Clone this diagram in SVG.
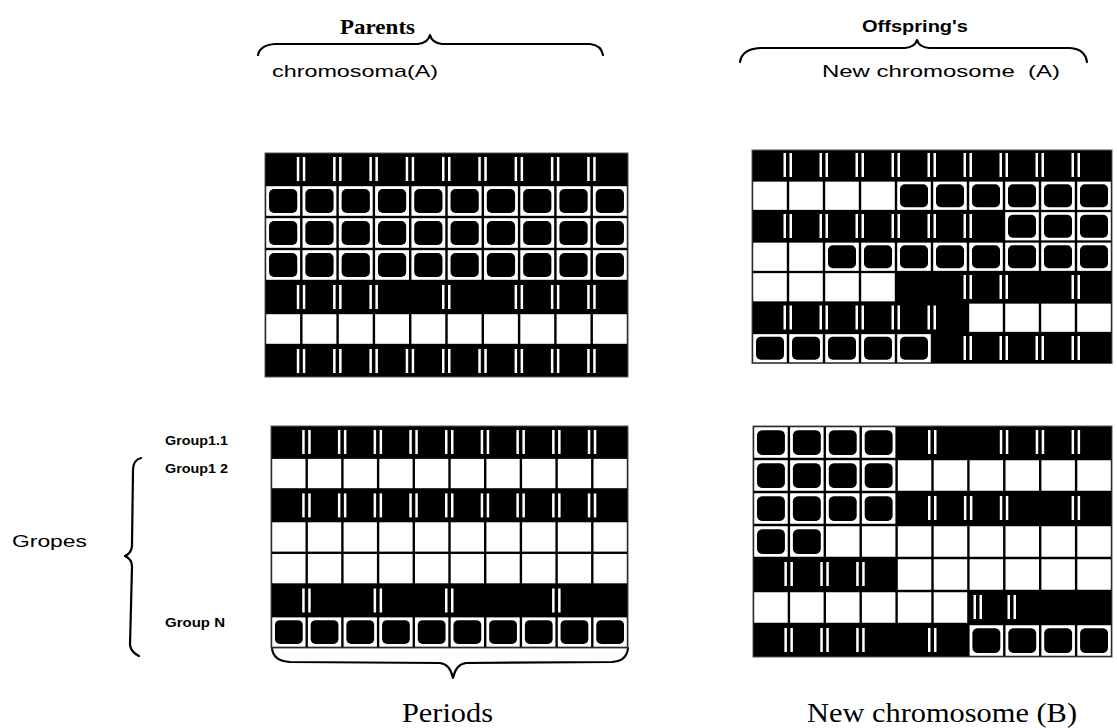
<svg xmlns="http://www.w3.org/2000/svg" xmlns:xlink="http://www.w3.org/1999/xlink" width="1117" height="728" viewBox="0 0 1117 728">
<style>
.bg{fill:#000;stroke:#555;stroke-width:1}
.br{fill:none;stroke:#000;stroke-width:2.2;stroke-linecap:round;stroke-linejoin:round}
.sans{font-family:"Liberation Sans",Arial,sans-serif;fill:#000}
.serif{font-family:"Liberation Serif","Times New Roman",serif;fill:#000}
</style>
<defs>
<symbol id="W" viewBox="0 0 36 32" preserveAspectRatio="none"><rect x="1.2" y="1.2" width="33.6" height="29.6" fill="#fff"/></symbol>
<symbol id="F" viewBox="0 0 36 32" preserveAspectRatio="none"><rect x="1.2" y="1.2" width="33.6" height="29.6" fill="#fff"/><rect x="4" y="4" width="28" height="24" rx="5" fill="#000"/></symbol>
<g id="B"><rect x="-4.5" y="-2" width="2.5" height="24" fill="#fff"/><rect x="1.5" y="-2" width="2.5" height="24" fill="#fff"/></g>
</defs>
<rect width="1117" height="728" fill="#fff"/>

<g id="labels">
<text class="serif" x="340" y="34" font-size="21" font-weight="bold" textLength="75" lengthAdjust="spacingAndGlyphs">Parents</text>
<text class="sans" x="272" y="77" font-size="17" textLength="166" lengthAdjust="spacingAndGlyphs">chromosoma(A)</text>
<text class="sans" x="862" y="32" font-size="17" font-weight="bold" textLength="106" lengthAdjust="spacingAndGlyphs">Offspring's</text>
<text class="sans" x="822" y="77" font-size="17" textLength="238" lengthAdjust="spacingAndGlyphs" xml:space="preserve">New chromosome  (A)</text>
<text class="sans" x="165" y="445" font-size="12" font-weight="bold" textLength="63" lengthAdjust="spacingAndGlyphs">Group1.1</text>
<text class="sans" x="165" y="473" font-size="12" font-weight="bold" textLength="63" lengthAdjust="spacingAndGlyphs">Group1 2</text>
<text class="sans" x="165" y="627" font-size="12" font-weight="bold" textLength="60" lengthAdjust="spacingAndGlyphs">Group N</text>
<text class="sans" x="12" y="547" font-size="17" textLength="75" lengthAdjust="spacingAndGlyphs">Gropes</text>
<text class="serif" x="402" y="722" font-size="28" textLength="91" lengthAdjust="spacingAndGlyphs">Periods</text>
<text class="serif" x="807" y="722" font-size="28" textLength="270" lengthAdjust="spacingAndGlyphs">New chromosome (B)</text>
</g>

<g id="connectors">
<path class="br" d="M258,55 Q260,45 275,44 L418,44 Q428,43 430,35 Q432,43 442,44 L590,44 Q601,45 603,55"/>
<path class="br" d="M740,62 Q742,49 760,48 L905,48 Q915,47 917,40 Q919,47 929,48 L1070,48 Q1085,49 1087,62"/>
<path class="br" d="M141,458 Q133,460 133,470 L132,545 Q132,553 125,556 Q132,559 132,567 L130,645 Q131,652 139,656"/>
<path class="br" d="M272,648 Q273,661 290,662 L440,663 Q450,664 453,678 Q456,664 466,663 L612,662 Q627,661 628,648"/>
</g>

<g id="gridA">
<rect class="bg" x="265" y="153" width="363" height="224"/>
<use href="#B" x="301.3" y="159"/><use href="#B" x="337.6" y="159"/><use href="#B" x="373.9" y="159"/><use href="#B" x="410.2" y="159"/><use href="#B" x="446.5" y="159"/><use href="#B" x="482.8" y="159"/><use href="#B" x="519.1" y="159"/><use href="#B" x="555.4" y="159"/><use href="#B" x="591.7" y="159"/>
<use href="#F" x="265" y="185" width="36.3" height="32"/><use href="#F" x="301.3" y="185" width="36.3" height="32"/><use href="#F" x="337.6" y="185" width="36.3" height="32"/><use href="#F" x="373.9" y="185" width="36.3" height="32"/><use href="#F" x="410.2" y="185" width="36.3" height="32"/><use href="#F" x="446.5" y="185" width="36.3" height="32"/><use href="#F" x="482.8" y="185" width="36.3" height="32"/><use href="#F" x="519.1" y="185" width="36.3" height="32"/><use href="#F" x="555.4" y="185" width="36.3" height="32"/><use href="#F" x="591.7" y="185" width="36.3" height="32"/>
<use href="#F" x="265" y="217" width="36.3" height="32"/><use href="#F" x="301.3" y="217" width="36.3" height="32"/><use href="#F" x="337.6" y="217" width="36.3" height="32"/><use href="#F" x="373.9" y="217" width="36.3" height="32"/><use href="#F" x="410.2" y="217" width="36.3" height="32"/><use href="#F" x="446.5" y="217" width="36.3" height="32"/><use href="#F" x="482.8" y="217" width="36.3" height="32"/><use href="#F" x="519.1" y="217" width="36.3" height="32"/><use href="#F" x="555.4" y="217" width="36.3" height="32"/><use href="#F" x="591.7" y="217" width="36.3" height="32"/>
<use href="#F" x="265" y="249" width="36.3" height="32"/><use href="#F" x="301.3" y="249" width="36.3" height="32"/><use href="#F" x="337.6" y="249" width="36.3" height="32"/><use href="#F" x="373.9" y="249" width="36.3" height="32"/><use href="#F" x="410.2" y="249" width="36.3" height="32"/><use href="#F" x="446.5" y="249" width="36.3" height="32"/><use href="#F" x="482.8" y="249" width="36.3" height="32"/><use href="#F" x="519.1" y="249" width="36.3" height="32"/><use href="#F" x="555.4" y="249" width="36.3" height="32"/><use href="#F" x="591.7" y="249" width="36.3" height="32"/>
<use href="#B" x="301.3" y="287"/><use href="#B" x="337.6" y="287"/><use href="#B" x="373.9" y="287"/><use href="#B" x="446.5" y="287"/><use href="#B" x="519.1" y="287"/><use href="#B" x="555.4" y="287"/><use href="#B" x="591.7" y="287"/>
<use href="#W" x="265" y="313" width="36.3" height="32"/><use href="#W" x="301.3" y="313" width="36.3" height="32"/><use href="#W" x="337.6" y="313" width="36.3" height="32"/><use href="#W" x="373.9" y="313" width="36.3" height="32"/><use href="#W" x="410.2" y="313" width="36.3" height="32"/><use href="#W" x="446.5" y="313" width="36.3" height="32"/><use href="#W" x="482.8" y="313" width="36.3" height="32"/><use href="#W" x="519.1" y="313" width="36.3" height="32"/><use href="#W" x="555.4" y="313" width="36.3" height="32"/><use href="#W" x="591.7" y="313" width="36.3" height="32"/>
<use href="#B" x="301.3" y="351"/><use href="#B" x="337.6" y="351"/><use href="#B" x="373.9" y="351"/><use href="#B" x="410.2" y="351"/><use href="#B" x="446.5" y="351"/><use href="#B" x="482.8" y="351"/><use href="#B" x="519.1" y="351"/><use href="#B" x="555.4" y="351"/><use href="#B" x="591.7" y="351"/>
</g>

<g id="gridB">
<rect class="bg" x="752" y="150" width="360" height="213.5"/>
<use href="#B" x="788" y="155"/><use href="#B" x="824" y="155"/><use href="#B" x="860" y="155"/><use href="#B" x="896" y="155"/><use href="#B" x="932" y="155"/><use href="#B" x="968" y="155"/><use href="#B" x="1004" y="155"/><use href="#B" x="1040" y="155"/><use href="#B" x="1076" y="155"/>
<use href="#W" x="752" y="180.5" width="36" height="30.5"/><use href="#W" x="788" y="180.5" width="36" height="30.5"/><use href="#W" x="824" y="180.5" width="36" height="30.5"/><use href="#W" x="860" y="180.5" width="36" height="30.5"/><use href="#F" x="896" y="180.5" width="36" height="30.5"/><use href="#F" x="932" y="180.5" width="36" height="30.5"/><use href="#F" x="968" y="180.5" width="36" height="30.5"/><use href="#F" x="1004" y="180.5" width="36" height="30.5"/><use href="#F" x="1040" y="180.5" width="36" height="30.5"/><use href="#F" x="1076" y="180.5" width="36" height="30.5"/>
<use href="#B" x="788" y="216"/><use href="#B" x="824" y="216"/><use href="#B" x="860" y="216"/><use href="#B" x="896" y="216"/><use href="#B" x="932" y="216"/><use href="#B" x="968" y="216"/><use href="#F" x="1004" y="211" width="36" height="30.5"/><use href="#F" x="1040" y="211" width="36" height="30.5"/><use href="#F" x="1076" y="211" width="36" height="30.5"/>
<use href="#W" x="752" y="241.5" width="36" height="30.5"/><use href="#W" x="788" y="241.5" width="36" height="30.5"/><use href="#F" x="824" y="241.5" width="36" height="30.5"/><use href="#F" x="860" y="241.5" width="36" height="30.5"/><use href="#F" x="896" y="241.5" width="36" height="30.5"/><use href="#F" x="932" y="241.5" width="36" height="30.5"/><use href="#F" x="968" y="241.5" width="36" height="30.5"/><use href="#F" x="1004" y="241.5" width="36" height="30.5"/><use href="#F" x="1040" y="241.5" width="36" height="30.5"/><use href="#F" x="1076" y="241.5" width="36" height="30.5"/>
<use href="#W" x="752" y="272" width="36" height="30.5"/><use href="#W" x="788" y="272" width="36" height="30.5"/><use href="#W" x="824" y="272" width="36" height="30.5"/><use href="#W" x="860" y="272" width="36" height="30.5"/><use href="#B" x="968" y="277"/><use href="#B" x="1004" y="277"/><use href="#B" x="1076" y="277"/>
<use href="#B" x="788" y="307.5"/><use href="#B" x="824" y="307.5"/><use href="#B" x="860" y="307.5"/><use href="#B" x="896" y="307.5"/><use href="#B" x="932" y="307.5"/><use href="#W" x="968" y="302.5" width="36" height="30.5"/><use href="#W" x="1004" y="302.5" width="36" height="30.5"/><use href="#W" x="1040" y="302.5" width="36" height="30.5"/><use href="#W" x="1076" y="302.5" width="36" height="30.5"/>
<use href="#F" x="752" y="333" width="36" height="30.5"/><use href="#F" x="788" y="333" width="36" height="30.5"/><use href="#F" x="824" y="333" width="36" height="30.5"/><use href="#F" x="860" y="333" width="36" height="30.5"/><use href="#F" x="896" y="333" width="36" height="30.5"/><use href="#B" x="968" y="338"/><use href="#B" x="1004" y="338"/><use href="#B" x="1040" y="338"/><use href="#B" x="1076" y="338"/>
</g>

<g id="gridC">
<rect class="bg" x="271" y="426" width="357" height="222"/>
<use href="#B" x="306.7" y="432"/><use href="#B" x="342.4" y="432"/><use href="#B" x="378.1" y="432"/><use href="#B" x="413.8" y="432"/><use href="#B" x="449.5" y="432"/><use href="#B" x="485.2" y="432"/><use href="#B" x="520.9" y="432"/><use href="#B" x="556.6" y="432"/><use href="#B" x="592.3" y="432"/>
<use href="#W" x="271" y="457.7" width="35.7" height="31.7"/><use href="#W" x="306.7" y="457.7" width="35.7" height="31.7"/><use href="#W" x="342.4" y="457.7" width="35.7" height="31.7"/><use href="#W" x="378.1" y="457.7" width="35.7" height="31.7"/><use href="#W" x="413.8" y="457.7" width="35.7" height="31.7"/><use href="#W" x="449.5" y="457.7" width="35.7" height="31.7"/><use href="#W" x="485.2" y="457.7" width="35.7" height="31.7"/><use href="#W" x="520.9" y="457.7" width="35.7" height="31.7"/><use href="#W" x="556.6" y="457.7" width="35.7" height="31.7"/><use href="#W" x="592.3" y="457.7" width="35.7" height="31.7"/>
<use href="#B" x="306.7" y="495.4"/><use href="#B" x="342.4" y="495.4"/><use href="#B" x="378.1" y="495.4"/><use href="#B" x="413.8" y="495.4"/><use href="#B" x="449.5" y="495.4"/><use href="#B" x="485.2" y="495.4"/><use href="#B" x="520.9" y="495.4"/><use href="#B" x="556.6" y="495.4"/><use href="#B" x="592.3" y="495.4"/>
<use href="#W" x="271" y="521.1" width="35.7" height="31.7"/><use href="#W" x="306.7" y="521.1" width="35.7" height="31.7"/><use href="#W" x="342.4" y="521.1" width="35.7" height="31.7"/><use href="#W" x="378.1" y="521.1" width="35.7" height="31.7"/><use href="#W" x="413.8" y="521.1" width="35.7" height="31.7"/><use href="#W" x="449.5" y="521.1" width="35.7" height="31.7"/><use href="#W" x="485.2" y="521.1" width="35.7" height="31.7"/><use href="#W" x="520.9" y="521.1" width="35.7" height="31.7"/><use href="#W" x="556.6" y="521.1" width="35.7" height="31.7"/><use href="#W" x="592.3" y="521.1" width="35.7" height="31.7"/>
<use href="#W" x="271" y="552.8" width="35.7" height="31.7"/><use href="#W" x="306.7" y="552.8" width="35.7" height="31.7"/><use href="#W" x="342.4" y="552.8" width="35.7" height="31.7"/><use href="#W" x="378.1" y="552.8" width="35.7" height="31.7"/><use href="#W" x="413.8" y="552.8" width="35.7" height="31.7"/><use href="#W" x="449.5" y="552.8" width="35.7" height="31.7"/><use href="#W" x="485.2" y="552.8" width="35.7" height="31.7"/><use href="#W" x="520.9" y="552.8" width="35.7" height="31.7"/><use href="#W" x="556.6" y="552.8" width="35.7" height="31.7"/><use href="#W" x="592.3" y="552.8" width="35.7" height="31.7"/>
<use href="#B" x="306.7" y="590.5"/><use href="#B" x="378.1" y="590.5"/><use href="#B" x="449.5" y="590.5"/><use href="#B" x="556.6" y="590.5"/>
<use href="#F" x="271" y="616.2" width="35.7" height="31.7"/><use href="#F" x="306.7" y="616.2" width="35.7" height="31.7"/><use href="#F" x="342.4" y="616.2" width="35.7" height="31.7"/><use href="#F" x="378.1" y="616.2" width="35.7" height="31.7"/><use href="#F" x="413.8" y="616.2" width="35.7" height="31.7"/><use href="#F" x="449.5" y="616.2" width="35.7" height="31.7"/><use href="#F" x="485.2" y="616.2" width="35.7" height="31.7"/><use href="#F" x="520.9" y="616.2" width="35.7" height="31.7"/><use href="#F" x="556.6" y="616.2" width="35.7" height="31.7"/><use href="#F" x="592.3" y="616.2" width="35.7" height="31.7"/>
</g>

<g id="gridD">
<rect class="bg" x="753" y="426" width="359" height="231"/>
<use href="#F" x="753" y="426" width="35.9" height="33"/><use href="#F" x="788.9" y="426" width="35.9" height="33"/><use href="#F" x="824.8" y="426" width="35.9" height="33"/><use href="#F" x="860.7" y="426" width="35.9" height="33"/><use href="#B" x="932.5" y="432"/><use href="#B" x="1004.3" y="432"/><use href="#B" x="1040.2" y="432"/><use href="#B" x="1076.1" y="432"/>
<use href="#F" x="753" y="459" width="35.9" height="33"/><use href="#F" x="788.9" y="459" width="35.9" height="33"/><use href="#F" x="824.8" y="459" width="35.9" height="33"/><use href="#F" x="860.7" y="459" width="35.9" height="33"/><use href="#W" x="896.6" y="459" width="35.9" height="33"/><use href="#W" x="932.5" y="459" width="35.9" height="33"/><use href="#W" x="968.4" y="459" width="35.9" height="33"/><use href="#W" x="1004.3" y="459" width="35.9" height="33"/><use href="#W" x="1040.2" y="459" width="35.9" height="33"/><use href="#W" x="1076.1" y="459" width="35.9" height="33"/>
<use href="#F" x="753" y="492" width="35.9" height="33"/><use href="#F" x="788.9" y="492" width="35.9" height="33"/><use href="#F" x="824.8" y="492" width="35.9" height="33"/><use href="#F" x="860.7" y="492" width="35.9" height="33"/><use href="#B" x="932.5" y="498"/><use href="#B" x="968.4" y="498"/><use href="#B" x="1004.3" y="498"/><use href="#B" x="1076.1" y="498"/>
<use href="#F" x="753" y="525" width="35.9" height="33"/><use href="#F" x="788.9" y="525" width="35.9" height="33"/><use href="#W" x="824.8" y="525" width="35.9" height="33"/><use href="#W" x="860.7" y="525" width="35.9" height="33"/><use href="#W" x="896.6" y="525" width="35.9" height="33"/><use href="#W" x="932.5" y="525" width="35.9" height="33"/><use href="#W" x="968.4" y="525" width="35.9" height="33"/><use href="#W" x="1004.3" y="525" width="35.9" height="33"/><use href="#W" x="1040.2" y="525" width="35.9" height="33"/><use href="#W" x="1076.1" y="525" width="35.9" height="33"/>
<use href="#B" x="788.9" y="564"/><use href="#B" x="824.8" y="564"/><use href="#B" x="860.7" y="564"/><use href="#W" x="896.6" y="558" width="35.9" height="33"/><use href="#W" x="932.5" y="558" width="35.9" height="33"/><use href="#W" x="968.4" y="558" width="35.9" height="33"/><use href="#W" x="1004.3" y="558" width="35.9" height="33"/><use href="#W" x="1040.2" y="558" width="35.9" height="33"/><use href="#W" x="1076.1" y="558" width="35.9" height="33"/>
<use href="#W" x="753" y="591" width="35.9" height="33"/><use href="#W" x="788.9" y="591" width="35.9" height="33"/><use href="#W" x="824.8" y="591" width="35.9" height="33"/><use href="#W" x="860.7" y="591" width="35.9" height="33"/><use href="#W" x="896.6" y="591" width="35.9" height="33"/><use href="#W" x="932.5" y="591" width="35.9" height="33"/><use href="#B" x="978" y="597"/><use href="#B" x="1012" y="597"/>
<use href="#B" x="788.9" y="630"/><use href="#B" x="824.8" y="630"/><use href="#B" x="860.7" y="630"/><use href="#B" x="932.5" y="630"/><use href="#F" x="968.4" y="624" width="35.9" height="33"/><use href="#F" x="1004.3" y="624" width="35.9" height="33"/><use href="#F" x="1040.2" y="624" width="35.9" height="33"/><use href="#F" x="1076.1" y="624" width="35.9" height="33"/>
</g>
</svg>
